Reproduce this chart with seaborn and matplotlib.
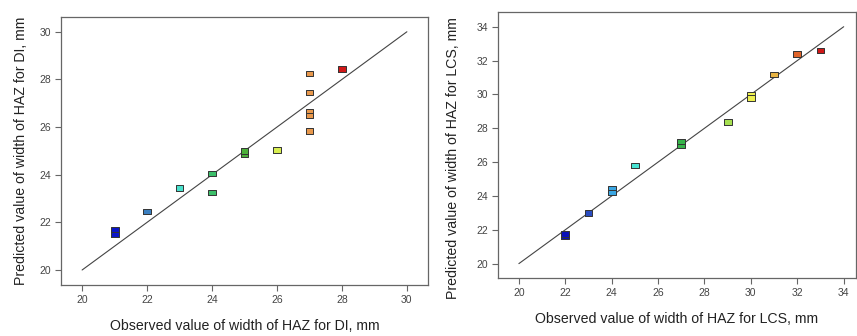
import matplotlib
matplotlib.use("Agg")
import matplotlib.pyplot as plt
import seaborn as sns
import pandas as pd

sns.set_theme(style="white")
plt.rcParams['font.family'] = ['Liberation Sans', 'DejaVu Sans']

# ---- data: DI ----
di_observed = [21, 21, 22, 23, 24, 24, 25, 25, 26, 27, 27, 27, 27, 27, 28]
di_predicted = [21.5, 21.7, 22.45, 23.45, 24.06, 23.25, 24.85, 25.0, 25.03,
                28.26, 27.45, 26.64, 26.48, 25.84, 28.43]

# ---- data: LCS ----
lcs_observed = [22, 22, 23, 24, 24, 25, 27, 27, 29, 30, 30, 31, 32, 33]
lcs_predicted = [21.6, 21.75, 23.0, 24.4, 24.2, 25.79, 27.0, 27.2, 28.37,
                 29.97, 29.79, 31.17, 32.39, 32.6]

di_xticks = [20, 22, 24, 26, 28, 30]
lcs_xticks = [20, 22, 24, 26, 28, 30, 32, 34]

di_colors = {21: "#0a14c8", 22: "#3a7fc0", 23: "#48e0cc", 24: "#3cbf6a",
             25: "#4caf3a", 26: "#d8ee50", 27: "#e8984c", 28: "#d01818"}
lcs_colors = {22: "#0a10b8", 23: "#2a4cc0", 24: "#3aa6e2", 25: "#48e4d4",
              27: "#36b44a", 29: "#a6e050", 30: "#eef050", 31: "#e8b444",
              32: "#e0642a", 33: "#d01818"}

rect = [(-1.45, -1), (1.45, -1), (1.45, 1), (-1.45, 1), (-1.45, -1)]

fig = plt.figure(figsize=(8.57, 3.36), dpi=100)
ax1 = fig.add_axes([61/857, 51/336, 367/857, 268/336])
ax2 = fig.add_axes([498/857, 58/336, 358/857, 266/336])


def panel(ax, obs, pred, colors, lo, hi, xlim, ylim, ticks, name):
    ax.plot([lo, hi], [lo, hi], color="#444444", lw=0.8, zorder=1)
    df = pd.DataFrame({"obs": obs, "pred": pred})
    sns.scatterplot(data=df, x="obs", y="pred", hue="obs", palette=colors,
                    marker=rect, s=32, edgecolor="#333333", linewidth=0.7,
                    legend=False, ax=ax, zorder=3)
    ax.set_xlim(*xlim)
    ax.set_ylim(*ylim)
    ax.set_xticks(ticks)
    ax.set_yticks(ticks)
    ax.tick_params(axis="both", direction="out", length=4, width=0.8,
                   color="#666666", labelsize=7.5, labelcolor="#444444",
                   bottom=True, left=True, pad=3)
    for sp in ax.spines.values():
        sp.set_color("#666666")
        sp.set_linewidth(0.9)
    ax.set_xlabel(f"Observed value of width of HAZ for {name}, mm",
                  fontsize=10.2, color="#222222", labelpad=10)
    ax.set_ylabel(f"Predicted value of width of HAZ for {name}, mm",
                  fontsize=10.2, color="#222222", labelpad=8)


panel(ax1, di_observed, di_predicted, di_colors, 20, 30,
      (19.35, 30.65), (19.37, 30.62), di_xticks, "DI")
panel(ax2, lcs_observed, lcs_predicted, lcs_colors, 20, 34,
      (19.1, 34.53), (19.15, 34.87), lcs_xticks, "LCS")
ax2.yaxis.set_label_coords(-0.105, 0.45)

fig.savefig("out.png", dpi=100, facecolor="white")
